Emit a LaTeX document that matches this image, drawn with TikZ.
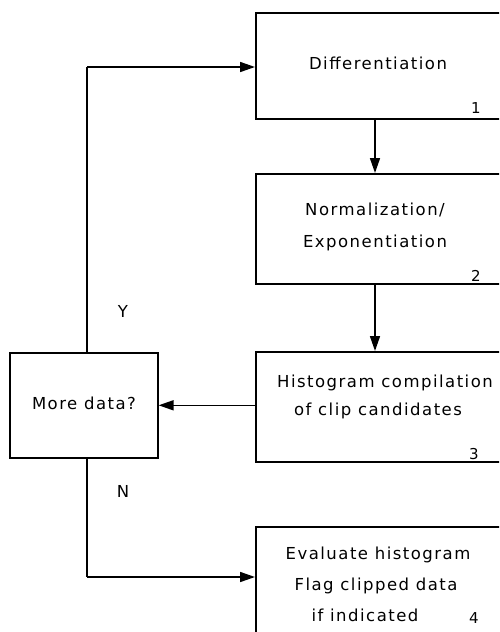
\documentclass[tikz,border=0pt]{standalone}
\usepackage{fontspec}
\setmainfont{DejaVu Sans}[LetterSpace=9]
\usetikzlibrary{arrows.meta}
\begin{document}
\begin{tikzpicture}[x=1pt,y=-1pt,
  box/.style={draw,line width=1.6pt,anchor=north west,inner sep=0pt},
  lbl/.style={font=\fontsize{16.5}{20}\selectfont,inner sep=0pt},
  num/.style={font=\fontsize{15}{18}\selectfont,inner sep=0pt},
  flow/.style={line width=1.6pt,-{Triangle[length=15pt,width=10pt]}},
  line/.style={line width=1.6pt}]
\useasboundingbox (0,0) rectangle (499,632);
\clip (0,0) rectangle (499,632);
\node[box,minimum width=270pt,minimum height=106pt] (b1) at (255,12) {};
\node[box,minimum width=270pt,minimum height=110pt] (b2) at (255,173) {};
\node[box,minimum width=270pt,minimum height=110pt] (b3) at (255,351) {};
\node[box,minimum width=270pt,minimum height=130pt] (b4) at (255,526) {};
\node[box,minimum width=148pt,minimum height=105pt] (md) at (9,352) {};
\node[lbl] (t1) at (378,63) {Differentiation};
\node[lbl] (t2a) at (375,210) {Normalization/};
\node[lbl] (t2b) at (375,243) {Exponentiation};
\node[lbl] (t3a) at (385,383) {Histogram compilation};
\node[lbl] (t3b) at (378,411) {of clip candidates};
\node[lbl] (t4a) at (378,555) {Evaluate histogram};
\node[lbl] (t4b) at (376,586) {Flag clipped data};
\node[lbl] (t4c) at (365,615) {if indicated};
\node[lbl] (tm) at (84,403) {More data?};
\node[num] (n1) at (476,108) {1};
\node[num] (n2) at (476,276) {2};
\node[num] (n3) at (474,454) {3};
\node[num] (n4) at (474,618) {4};
\node[lbl] (ly) at (123,311) {Y};
\node[lbl] (ln) at (123,491) {N};
\coordinate (ytop) at (87,67);
\coordinate (nbot) at (87,577);
\draw[flow] (b1.south -| 375,0) -- (b2.north -| 375,0);
\draw[flow] (b2.south -| 375,0) -- (b3.north -| 375,0);
\draw[flow] (b3.west |- md.east) -- (md.east);
\draw[line] (md.north -| ytop) -- (ytop);
\draw[flow] (ytop) -- (ytop -| b1.west);
\draw[line] (md.south -| nbot) -- (nbot);
\draw[flow] (nbot) -- (nbot -| b4.west);
\end{tikzpicture}
\end{document}
